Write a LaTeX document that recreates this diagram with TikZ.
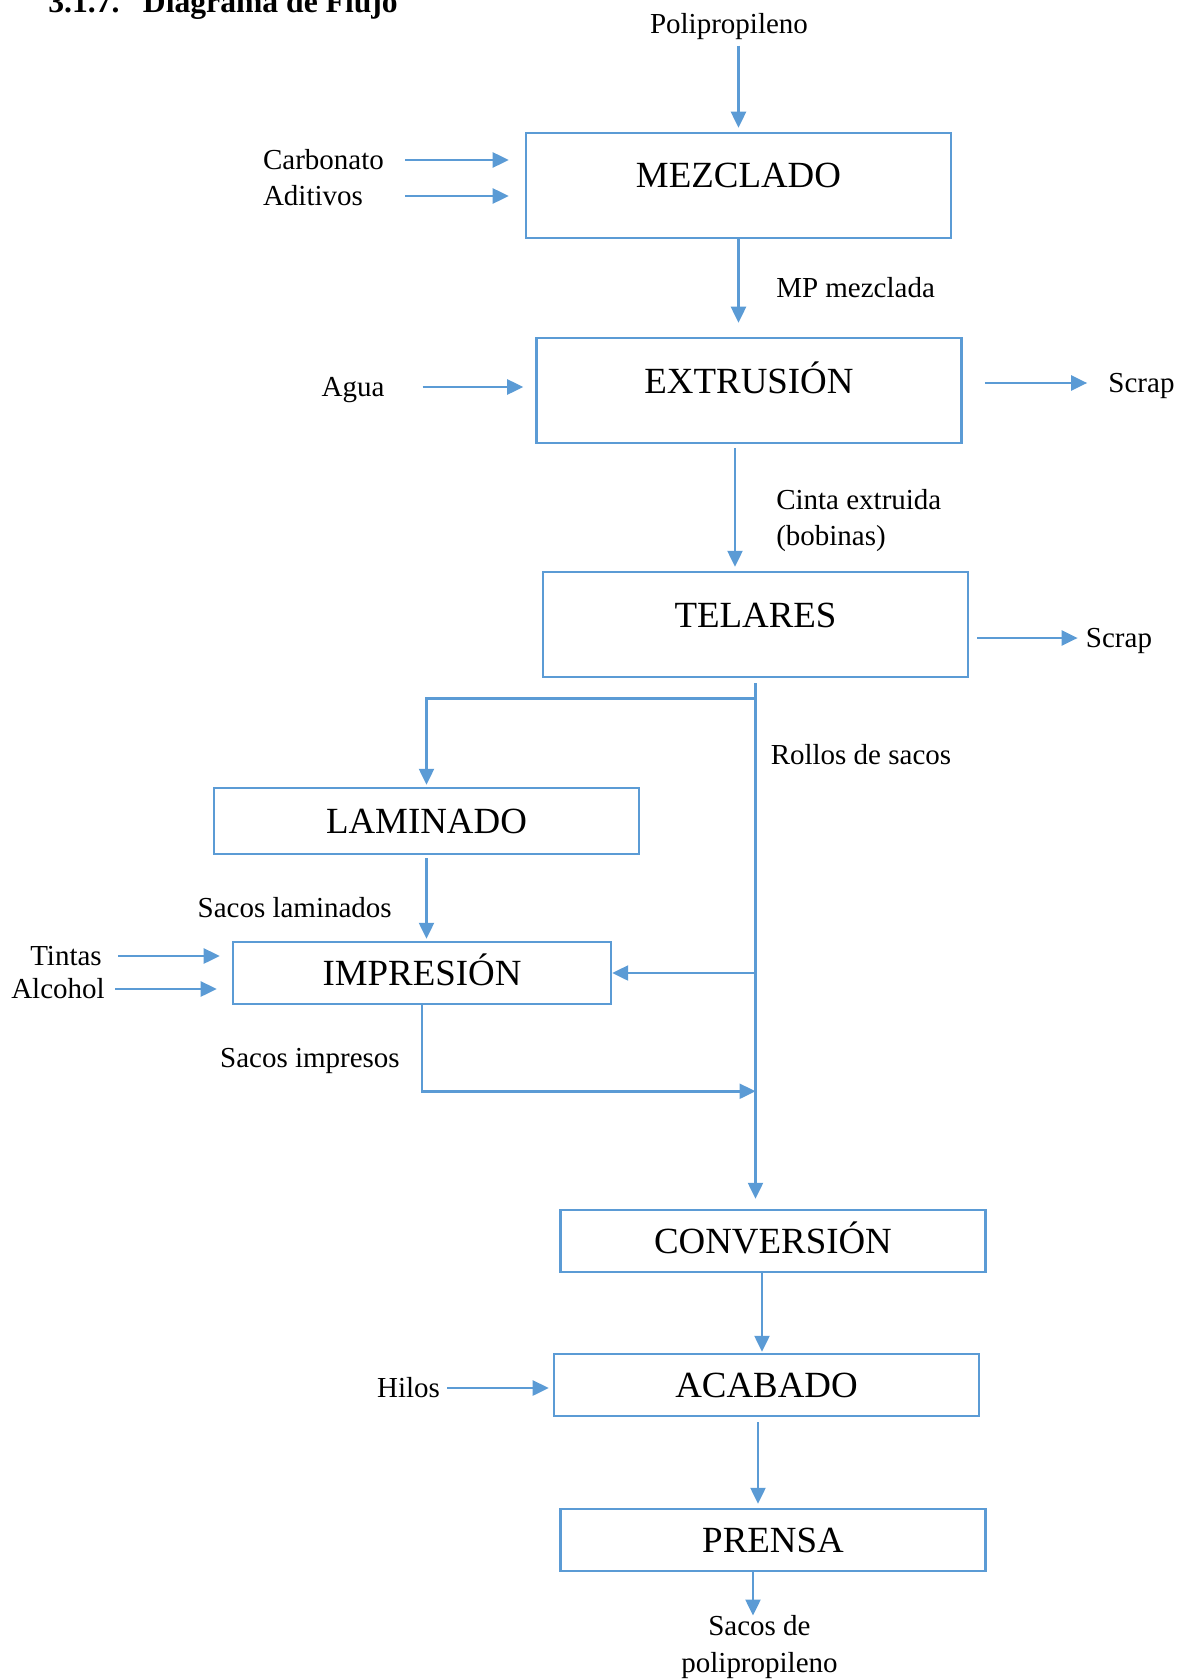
\documentclass[tikz,border=0pt]{standalone}
\usepackage{fontspec}
\setmainfont{Liberation Serif}
\usepackage{tikz}
\usetikzlibrary{positioning, arrows.meta}
\definecolor{lineblue}{RGB}{91,155,213}
\newcommand{\boxfont}{\fontsize{21}{25}\selectfont}
\newcommand{\lblfont}{\fontsize{16.5}{20.5}\selectfont}
\tikzstyle{process} = [rectangle, minimum width=8.5cm, 
minimum height=2.1cm, text centered, draw=lineblue, 
line width=0.5mm, font=\boxfont, text height=0.5cm, 
text depth=0.4cm]
\tikzstyle{processlow} = [process, minimum height=1.24cm, 
text depth=0cm]
\tikzstyle{txt} = [inner sep=0pt, font=\lblfont, 
text height=0.49cm, text depth=0.12cm]
\tikzstyle{txtml} = [inner sep=0pt, font=\lblfont]
\tikzstyle{arrow} = [draw=lineblue, line width=0.5mm, 
-{Triangle[length=3.2mm,width=3mm]}]

\begin{document}
\begin{tikzpicture}[node distance=4cm]
\useasboundingbox (-14.77,3.71) rectangle (8.81,-29.89);

\node (title) [anchor=base west, inner sep=0pt, 
font=\bfseries\fontsize{18}{22}\selectfont] at (-13.81,3.46)
{3.1.7.\hspace{0.47cm}Diagrama de Flujo};

%-------main process-------------------
\node (mez) [process] {MEZCLADO};

\node (ext) [process, below of=mez, yshift=-0.1cm, xshift=0.21cm] 
{EXTRUSIÓN};

\node (tel) [process, below of=ext, yshift=-0.68cm, xshift=0.13cm] 
{TELARES};

\node (lam) [processlow, minimum height=1.32cm, below of=tel, 
yshift=0.07cm, xshift=-6.58cm] {LAMINADO};

\node (imp) [processlow, minimum width=7.56cm, below of=lam, 
yshift=0.96cm, xshift=-0.09cm] {IMPRESIÓN};

\node (conv) [processlow, below of=tel, yshift=-8.33cm, xshift=0.35cm] 
{CONVERSIÓN};

\node (acab) [processlow, below of=conv, yshift=1.12cm, xshift=-0.13cm] 
{ACABADO};

\node (pren) [processlow, below of=acab, yshift=0.9cm, xshift=0.13cm] 
{PRENSA};

%-------inputs and outputs-------------------
\node (pp) [txt, above of=mez, yshift=-0.77cm, xshift=-0.19cm] 
{Polipropileno};
\node (carb) [txt, left of=mez, xshift=-4.3cm, yshift=0.51cm] 
{Carbonato};
\node (adit) [txt, left of=mez, xshift=-4.51cm, yshift=-0.21cm] 
{Aditivos};
\node (agua) [txt, left of=ext, xshift=-3.92cm, yshift=0.07cm] 
{Agua};
\node (scrap1) [txt, right of=ext, xshift=3.85cm, yshift=0.15cm] 
{Scrap};
\node (scrap2) [txt, right of=tel, xshift=3.27cm, yshift=-0.27cm] 
{Scrap};
\node (tintas) [txt, left of=imp, xshift=-3.12cm, yshift=0.34cm] 
{Tintas};
\node (alc) [txt, left of=imp, xshift=-3.28cm, yshift=-0.32cm] 
{Alcohol};
\node (hilos) [txt, left of=acab, xshift=-3.16cm, yshift=-0.06cm] 
{Hilos};
\node (sacos) [txtml, align=center, below of=pren, yshift=1.86cm, 
xshift=-0.27cm] {Sacos de\\polipropileno};

%----------arrows for mez----------------
\draw [arrow, shorten <=0.12cm, shorten >=0.08cm] (pp.south -| mez.north) 
-- (mez.north);
\draw [arrow, shorten <=0.42cm, shorten >=0.32cm] (carb.east) 
-- (carb.east -| mez.west);
\draw [arrow, shorten <=0.42cm, shorten >=0.32cm] (carb.east |- adit.east) 
-- (adit.east -| mez.west);
\draw [arrow, shorten >=0.28cm] (mez.south) -- node[txt, anchor=west, 
xshift=0.73cm] (mpm) {MP mezclada} (mez.south |- ext.north);

%----------arrows for ext----------------
\draw [arrow, shorten <=0.76cm, shorten >=0.24cm] (agua.east) 
-- (agua.east -| ext.west);
\draw [arrow, shorten <=0.44cm, shorten >=0.42cm] (ext.east |- scrap1.west) 
-- (scrap1.west);
\draw [arrow, shorten <=0.08cm, shorten >=0.08cm] ([xshift=-0.28cm]ext.south) 
-- node[txtml, align=left, anchor=west, xshift=0.8cm, yshift=-0.26cm] (cinta) 
{Cinta extruida\\(bobinas)} ([xshift=-0.28cm]ext.south |- tel.north);

%----------arrows for tel----------------
\draw [arrow, shorten <=0.16cm, shorten >=0.16cm] (tel.east |- scrap2.west) 
-- (scrap2.west);
\draw [arrow, shorten <=0.1cm, shorten >=0.2cm] (tel.south) -- node[txt, 
pos=0.146, anchor=west, xshift=0.28cm] (rollos) {Rollos de sacos} 
(tel.south |- conv.north);
\coordinate (br1) at ([yshift=-0.4cm]tel.south);
\draw [arrow, shorten >=0.04cm] (br1) -| (lam.north);

%----------arrows for lam and imp----------------
\draw [arrow, shorten <=0.06cm, shorten >=0.04cm] (lam.south) -- node[txt, 
anchor=east, xshift=-0.67cm, yshift=-0.2cm] (saclam) {Sacos laminados} 
(lam.south |- imp.north);
\draw [arrow] (imp.east -| tel.south) -- (imp.east);
\draw [arrow, shorten <=0.32cm, shorten >=0.24cm] (tintas.east) 
-- (tintas.east -| imp.west);
\draw [arrow, shorten <=0.2cm, shorten >=0.3cm] (alc.east) 
-- (alc.east -| imp.west);
\coordinate (br2) at ([yshift=-1.72cm]imp.south);
\draw [arrow] (imp.south) |- node[txt, pos=0.25, anchor=east, xshift=-0.42cm, 
yshift=-0.2cm] (sacimp) {Sacos impresos} (br2 -| tel.south);

%----------arrows for conv, acab, pren----------------
\draw [arrow, shorten >=0.02cm] ([xshift=-0.22cm]conv.south) 
-- ([xshift=-0.22cm]conv.south |- acab.north);
\draw [arrow, shorten <=0.14cm, shorten >=0.08cm] (hilos.east) 
-- (hilos.east -| acab.west);
\draw [arrow, shorten <=0.1cm, shorten >=0.08cm] ([xshift=-0.17cm]acab.south) 
-- ([xshift=-0.17cm]acab.south |- pren.north);
\draw [arrow] ([xshift=-0.4cm]pren.south) 
-- ([xshift=-0.4cm]pren.south |- sacos.north);

\end{tikzpicture}
\end{document}
